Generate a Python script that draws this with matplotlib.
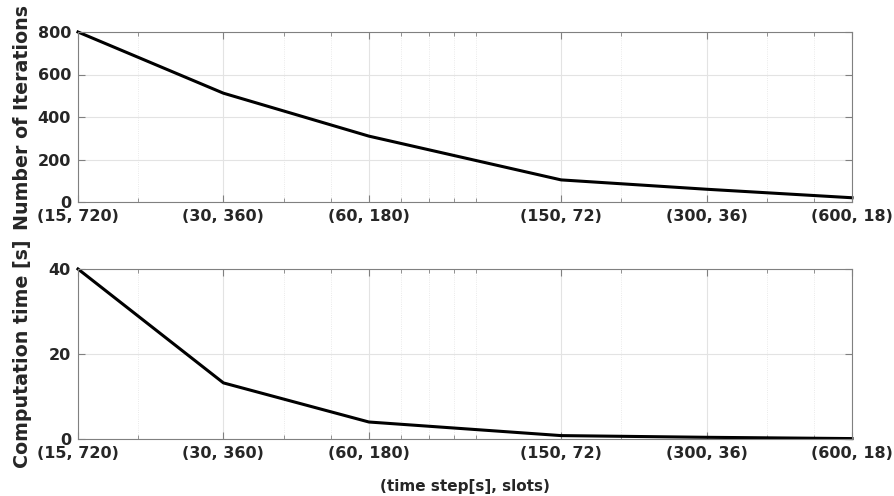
import matplotlib
matplotlib.use("Agg")
import matplotlib.pyplot as plt
from matplotlib.ticker import FixedLocator, NullFormatter, LogLocator

plt.rcParams['font.family'] = ['DejaVu Sans']
plt.rcParams['font.weight'] = 'bold'

# data
time_step = [15, 30, 60, 150, 300, 600]
slots = [720, 360, 180, 72, 36, 18]
iterations = [800, 512, 310, 104, 60, 20]
comp_time = [40, 13.2, 4.0, 0.8, 0.4, 0.1]

tick_labels = ["(%d, %d)" % (t, s) for t, s in zip(time_step, slots)]

W, H = 895, 496
fig = plt.figure(figsize=(W / 100, H / 100), dpi=100)

txt = '#262626'
spine = '#808080'


def setup(ax, ylim, yticks, ylabel):
    ax.set_xscale('log')
    ax.set_xlim(15, 600)
    ax.set_ylim(*ylim)
    ax.set_yticks(yticks)
    ax.xaxis.set_major_locator(FixedLocator(time_step))
    ax.xaxis.set_minor_locator(LogLocator(base=10, subs=range(1, 10)))
    ax.xaxis.set_minor_formatter(NullFormatter())
    ax.set_xticklabels(tick_labels)
    ax.tick_params(which='both', direction='in', top=True, right=True,
                   colors=spine, labelcolor=txt, labelsize=11.5)
    ax.tick_params(which='major', length=5, width=0.8)
    ax.tick_params(which='minor', length=3, width=0.6)
    ax.tick_params(axis='x', pad=5)
    ax.tick_params(axis='y', pad=5)
    for lab in ax.get_xticklabels() + ax.get_yticklabels():
        lab.set_fontweight('bold')
    for s in ax.spines.values():
        s.set_color(spine)
        s.set_linewidth(0.8)
    ax.grid(which='major', color='#e3e3e3', linewidth=0.8)
    ax.grid(which='minor', axis='x', color='#e3e3e3', linewidth=0.6, linestyle=':')
    ax.set_axisbelow(True)
    ax.set_ylabel(ylabel, fontsize=13.7, fontweight='bold', color=txt)
    ax.yaxis.set_label_coords(-0.06, 0.5)


ax1 = fig.add_axes([78 / W, 1 - 202 / H, 774 / W, 170 / H])
ax1.plot(time_step, iterations, color='black', linewidth=2.2, clip_on=False)
setup(ax1, (0, 800), [0, 200, 400, 600, 800], 'Number of Iterations')

ax2 = fig.add_axes([78 / W, 1 - 439 / H, 774 / W, 170 / H])
ax2.plot(time_step, comp_time, color='black', linewidth=2.2, clip_on=False)
setup(ax2, (0, 40), [0, 20, 40], 'Computation time [s]')
ax2.set_xlabel('(time step[s], slots)', fontsize=11, fontweight='bold', color=txt)
ax2.xaxis.set_label_coords(0.5, -0.235)

fig.savefig('out.png', dpi=100)
